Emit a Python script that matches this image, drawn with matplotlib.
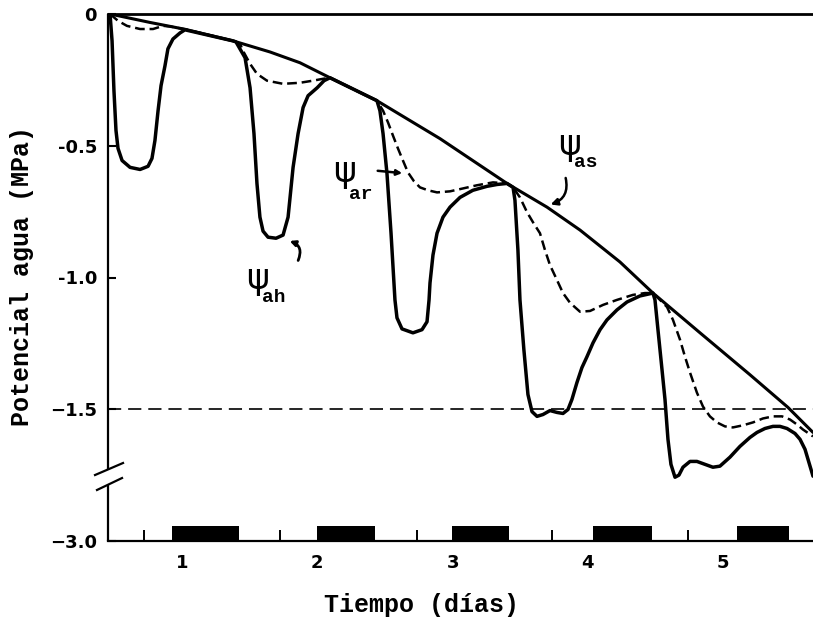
import matplotlib
matplotlib.use("Agg")
import matplotlib.pyplot as plt

plt.rcParams['lines.scale_dashes'] = False

# ---------------- data (days, MPa) ----------------
# soil water potential (psi_as)
soil_t = [0.468, 0.763, 1.022, 1.377, 1.650, 1.872, 2.094, 2.441, 2.907, 3.402,
          3.698, 3.942, 4.237, 4.481, 4.829, 5.198, 5.479, 5.664]
soil_v = [0.000, -0.032, -0.058, -0.102, -0.144, -0.185, -0.242, -0.329, -0.473, -0.643,
          -0.733, -0.820, -0.941, -1.059, -1.210, -1.369, -1.493, -1.588]

# leaf water potential (psi_ah)
leaf_t = [0.468, 0.483, 0.497, 0.512, 0.527, 0.557, 0.616, 0.690, 0.749, 0.778,
          0.800, 0.823, 0.845, 0.874, 0.896, 0.933, 0.985, 1.022,
          1.377, 1.399, 1.466, 1.503, 1.532, 1.554, 1.576, 1.599, 1.636, 1.695,
          1.747, 1.784, 1.821, 1.858, 1.895, 1.932, 1.999, 2.050, 2.094,
          2.441, 2.463, 2.486, 2.515, 2.545, 2.574, 2.589, 2.626, 2.707, 2.774,
          2.811, 2.826, 2.833, 2.855, 2.885, 2.929, 2.981, 3.055, 3.150, 3.254,
          3.328, 3.402,
          3.447, 3.461, 3.483, 3.498, 3.527, 3.557, 3.587, 3.624, 3.668, 3.720,
          3.771, 3.816, 3.853, 3.882, 3.919, 3.956, 3.993, 4.038, 4.090, 4.141,
          4.215, 4.289, 4.385, 4.481,
          4.496, 4.518, 4.548, 4.570, 4.592, 4.614, 4.644, 4.673, 4.703, 4.755,
          4.806, 4.865, 4.924, 4.976, 5.050, 5.124, 5.198, 5.250, 5.309, 5.368,
          5.420, 5.472, 5.531, 5.568, 5.605, 5.627, 5.649, 5.664]
leaf_v = [0.000, -0.102, -0.291, -0.442, -0.510, -0.556, -0.582, -0.590, -0.578, -0.548,
          -0.480, -0.367, -0.272, -0.197, -0.132, -0.095, -0.072, -0.060,
          -0.102, -0.106, -0.166, -0.280, -0.454, -0.643, -0.771, -0.824, -0.847, -0.851,
          -0.839, -0.771, -0.582, -0.454, -0.355, -0.310, -0.280, -0.253, -0.242,
          -0.329, -0.367, -0.454, -0.605, -0.832, -1.085, -1.153, -1.195, -1.210, -1.198,
          -1.168, -1.085, -1.021, -0.915, -0.832, -0.771, -0.733, -0.696, -0.669, -0.654,
          -0.647, -0.643,
          -0.658, -0.707, -0.896, -1.085, -1.274, -1.444, -1.509, -1.527, -1.520, -1.505,
          -1.512, -1.516, -1.501, -1.463, -1.399, -1.342, -1.301, -1.248, -1.198, -1.161,
          -1.123, -1.093, -1.070, -1.059,
          -1.085, -1.198, -1.350, -1.463, -1.614, -1.709, -1.758, -1.750, -1.720, -1.698,
          -1.698, -1.709, -1.720, -1.716, -1.682, -1.641, -1.607, -1.588, -1.573, -1.565,
          -1.565, -1.573, -1.592, -1.614, -1.652, -1.690, -1.728, -1.754]

# root water potential (psi_ar)
root_t = [0.468, 0.527, 0.593, 0.690, 0.786, 0.860, 0.911, 1.022,
          1.377, 1.429, 1.451, 1.503, 1.554, 1.628, 1.747, 1.872, 1.968, 2.042, 2.094,
          2.441, 2.486, 2.523, 2.559, 2.596, 2.633, 2.670, 2.715, 2.759, 2.818, 2.885,
          2.981, 3.077, 3.180, 3.299, 3.402,
          3.447, 3.498, 3.550, 3.594, 3.646, 3.683, 3.720, 3.771, 3.816, 3.868, 3.942,
          4.016, 4.112, 4.215, 4.333, 4.422, 4.481,
          4.533, 4.585, 4.629, 4.681, 4.718, 4.755, 4.806, 4.851, 4.902, 4.954, 5.013,
          5.072, 5.146, 5.220, 5.294, 5.368, 5.435, 5.494, 5.546, 5.590, 5.664]
root_v = [0.000, -0.026, -0.045, -0.057, -0.057, -0.045, -0.047, -0.058,
          -0.102, -0.113, -0.140, -0.189, -0.227, -0.253, -0.265, -0.261, -0.253, -0.246, -0.242,
          -0.329, -0.367, -0.412, -0.461, -0.510, -0.556, -0.601, -0.635, -0.658, -0.669, -0.677,
          -0.673, -0.662, -0.650, -0.639, -0.643,
          -0.658, -0.696, -0.752, -0.790, -0.832, -0.896, -0.953, -1.009, -1.059, -1.096, -1.130,
          -1.127, -1.104, -1.085, -1.066, -1.059, -1.059,
          -1.085, -1.112, -1.161, -1.236, -1.301, -1.361, -1.437, -1.490, -1.527, -1.550, -1.565,
          -1.569, -1.561, -1.550, -1.535, -1.527, -1.527, -1.539, -1.558, -1.577, -1.603]

threshold = -1.5

# dark periods (nights)
night_start = [0.926, 1.998, 2.996, 4.038, 5.102]
night_end = [1.421, 2.426, 3.417, 4.474, 5.486]

day_ticks = [1, 2, 3, 4, 5]
day_labels = ['1', '2', '3', '4', '5']
minor_day_ticks = [0.719, 1.724, 2.737, 3.735, 4.740]
ytick_vals = [0.0, -0.5, -1.0, -1.5, -2.0]
ytick_labels = ['0', '-0.5', '-1.0', '\u22121.5', '\u22123.0']

# ---------------- figure ----------------
W, H = 813, 618
fig = plt.figure(figsize=(W / 100, H / 100), dpi=100)
ax = fig.add_axes([108 / W, (H - 541) / H, 705 / W, 527 / H])
ax.set_xlim(0.453, 5.664)
ax.set_ylim(-2.0, 0.0)

tick_font = ['Liberation Sans Narrow', 'DejaVu Sans']
mono = ['Liberation Mono', 'DejaVu Sans Mono']

ax.axhline(threshold, color='black', lw=1.2, linestyle=(0, (9.5, 5.0)), zorder=1)

ax.plot(soil_t, soil_v, color='black', lw=2.2, solid_joinstyle='round',
        solid_capstyle='round', zorder=3)
ax.plot(leaf_t, leaf_v, color='black', lw=2.5, solid_joinstyle='round',
        solid_capstyle='round', zorder=3)
ax.plot(root_t, root_v, color='black', lw=1.8, linestyle=(0, (7.0, 3.5)), zorder=2)

ax.broken_barh([(s, e - s) for s, e in zip(night_start, night_end)], (-2.0, 0.058),
               facecolors='black', zorder=4, clip_on=False)

# spines (left spine drawn by hand with the axis break)
for s in ['right', 'left']:
    ax.spines[s].set_visible(False)
ax.spines['top'].set_linewidth(2.0)
ax.spines['bottom'].set_linewidth(1.6)
ax.plot([0, 0], [0.1358, 1.0], transform=ax.transAxes, color='black', lw=1.6,
        clip_on=False, solid_capstyle='butt')
ax.plot([0, 0], [0.0, 0.1068], transform=ax.transAxes, color='black', lw=1.6,
        clip_on=False, solid_capstyle='butt')
ax.plot([-0.0184, 0.0213], [0.1252, 0.1480], transform=ax.transAxes, color='black',
        lw=1.6, clip_on=False)
ax.plot([-0.0156, 0.0199], [0.0968, 0.1195], transform=ax.transAxes, color='black',
        lw=1.6, clip_on=False)

# ticks
ax.set_yticks(ytick_vals)
ax.set_yticklabels(ytick_labels, fontsize=13, fontweight='bold', family=tick_font)
ax.tick_params(axis='y', direction='in', length=6, width=1.5, pad=8, left=True)
ax.set_xticks(day_ticks)
ax.set_xticklabels(day_labels, fontsize=13, fontweight='bold', family=tick_font)
ax.set_xticks(minor_day_ticks, minor=True)
ax.tick_params(axis='x', which='major', length=0, pad=9)
ax.tick_params(axis='x', which='minor', direction='in', length=8, width=1.4)

ax.set_xlabel('Tiempo (días)', fontsize=18, family=mono, fontweight='bold', va='center')
ax.xaxis.set_label_coords(0.445, -0.121)
ax.set_ylabel('Potencial agua (MPa)', fontsize=18, family=mono, fontweight='bold',
              va='center')
ax.yaxis.set_label_coords(-0.122, 0.503)

# annotations
psi_kw = dict(fontsize=25, family='DejaVu Sans', ha='center', va='center', zorder=5)
sub_kw = dict(fontsize=14, family=mono, fontweight='bold', ha='center', va='center', zorder=5)

ax.text(1.562, -1.005, '\u03c8', **psi_kw)
ax.text(1.680, -1.077, 'ah', **sub_kw)
ax.annotate('', xy=(1.776, -0.858), xytext=(1.850, -0.945),
            arrowprops=dict(arrowstyle='-|>', lw=2, color='black', mutation_scale=8,
                            connectionstyle='arc3,rad=0.6'))

ax.text(2.205, -0.598, '\u03c8', **psi_kw)
ax.text(2.320, -0.684, 'ar', **sub_kw)
ax.annotate('', xy=(2.648, -0.605), xytext=(2.426, -0.594),
            arrowprops=dict(arrowstyle='-|>', lw=1.8, color='black', mutation_scale=8))

ax.text(3.868, -0.496, '\u03c8', **psi_kw)
ax.text(3.985, -0.563, 'as', **sub_kw)
ax.annotate('', xy=(3.705, -0.726), xytext=(3.831, -0.612),
            arrowprops=dict(arrowstyle='-|>', lw=1.8, color='black', mutation_scale=10,
                            connectionstyle='arc3,rad=-0.5'))

fig.savefig('out.png', dpi=100)
